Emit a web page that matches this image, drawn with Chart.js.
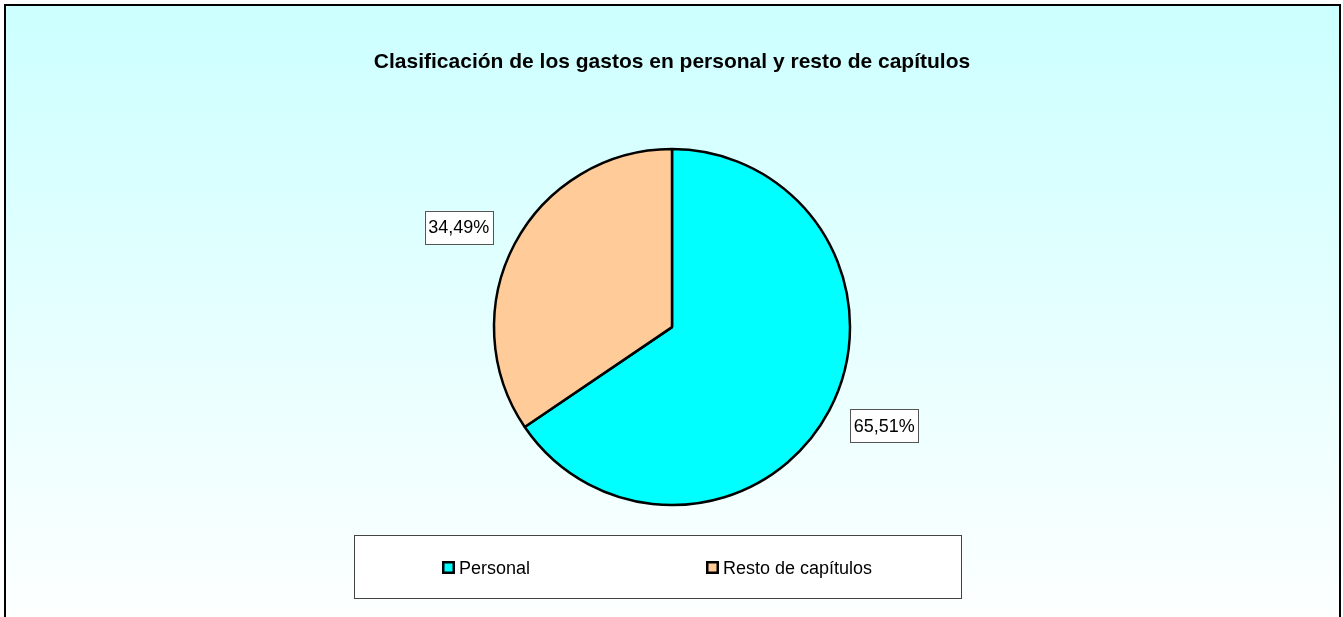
<!DOCTYPE html>
<html>
<head>
<meta charset="utf-8">
<script src="https://cdn.jsdelivr.net/npm/chart.js"></script>
<style>
  body {
    margin: 0;
    background: #fff;
  }
</style>
</head>
<body>
<canvas id="chart" width="1343" height="617"></canvas>
<script>
  // Data
  const categories = ['Personal', 'Resto de capítulos'];
  const shares = [65.51, 34.49];
  const sliceColors = ['#00ffff', '#ffcc99'];
  const chartTitle = 'Clasificación de los gastos en personal y resto de capítulos';

  const FONT = 'Arial, "Liberation Sans", sans-serif';

  function pctLabel(v) {
    return v.toFixed(2).replace('.', ',') + '%';
  }

  // Gradient background and outer frame
  const frame = {
    id: 'frame',
    beforeDraw(chart) {
      const ctx = chart.ctx;
      ctx.save();
      ctx.fillStyle = '#fff';
      ctx.fillRect(0, 0, chart.width, chart.height);
      const g = ctx.createLinearGradient(0, 5, 0, 640);
      g.addColorStop(0, '#ccffff');
      g.addColorStop(1, '#ffffff');
      ctx.fillStyle = g;
      ctx.fillRect(5, 5, 1335, 640);
      ctx.strokeStyle = '#000';
      ctx.lineWidth = 2;
      ctx.strokeRect(5, 5, 1335, 640);
      ctx.restore();
    }
  };

  // Boxed percentage labels, placed outside the slice end
  const sliceLabels = {
    id: 'sliceLabels',
    afterDatasetsDraw(chart) {
      const ctx = chart.ctx;
      const meta = chart.getDatasetMeta(0);
      ctx.save();
      ctx.font = '18px ' + FONT;
      ctx.textAlign = 'center';
      ctx.textBaseline = 'middle';
      meta.data.forEach((arc, i) => {
        const p = arc.getProps(['x', 'y', 'startAngle', 'endAngle', 'outerRadius'], true);
        const mid = (p.startAngle + p.endAngle) / 2;
        const px = p.x + Math.cos(mid) * p.outerRadius;
        const py = p.y + Math.sin(mid) * p.outerRadius;
        const text = pctLabel(shares[i]);
        const w = ctx.measureText(text).width + 7;
        const h = 33;
        const left = Math.cos(mid) >= 0 ? px + 21 : px - 22 - w;
        const top = Math.sin(mid) < 0 ? py - h : py - 1;
        ctx.fillStyle = '#fff';
        ctx.fillRect(left, top, w, h);
        ctx.strokeStyle = '#555';
        ctx.lineWidth = 1;
        ctx.strokeRect(Math.round(left) + 0.5, Math.round(top) + 0.5, Math.round(w), h);
        ctx.fillStyle = '#000';
        ctx.fillText(text, left + w / 2, top + h / 2 + 1);
      });
      ctx.restore();
    }
  };

  // Legend in a box below the pie
  const boxLegend = {
    id: 'boxLegend',
    afterDraw(chart) {
      const ctx = chart.ctx;
      ctx.save();
      ctx.fillStyle = '#fff';
      ctx.fillRect(354, 535, 607, 63);
      ctx.strokeStyle = '#444';
      ctx.lineWidth = 1;
      ctx.strokeRect(354.5, 535.5, 607, 63);
      ctx.font = '18px ' + FONT;
      ctx.textBaseline = 'middle';
      ctx.textAlign = 'left';
      categories.forEach((name, i) => {
        const x = 442 + i * 264;
        const y = 568;
        ctx.fillStyle = sliceColors[i];
        ctx.fillRect(x, y - 7, 13, 13);
        ctx.strokeStyle = '#000';
        ctx.lineWidth = 2.5;
        ctx.strokeRect(x + 1.25, y - 5.75, 10.5, 10.5);
        ctx.fillStyle = '#000';
        ctx.fillText(name, x + 17, y + 1);
      });
      ctx.restore();
    }
  };

  new Chart(document.getElementById('chart'), {
    type: 'pie',
    data: {
      labels: categories,
      datasets: [{
        data: shares,
        backgroundColor: sliceColors,
        borderColor: '#000',
        borderWidth: 2.5
      }]
    },
    options: {
      responsive: false,
      animation: false,
      radius: 178,
      layout: {
        padding: { left: 1, right: 0, top: 0, bottom: 58 }
      },
      plugins: {
        legend: { display: false },
        tooltip: { enabled: false },
        title: {
          display: true,
          text: chartTitle,
          color: '#000',
          font: { family: FONT, size: 21, weight: 'bold' },
          padding: { top: 50, bottom: 20 }
        }
      }
    },
    plugins: [frame, sliceLabels, boxLegend]
  });
</script>
</body>
</html>
